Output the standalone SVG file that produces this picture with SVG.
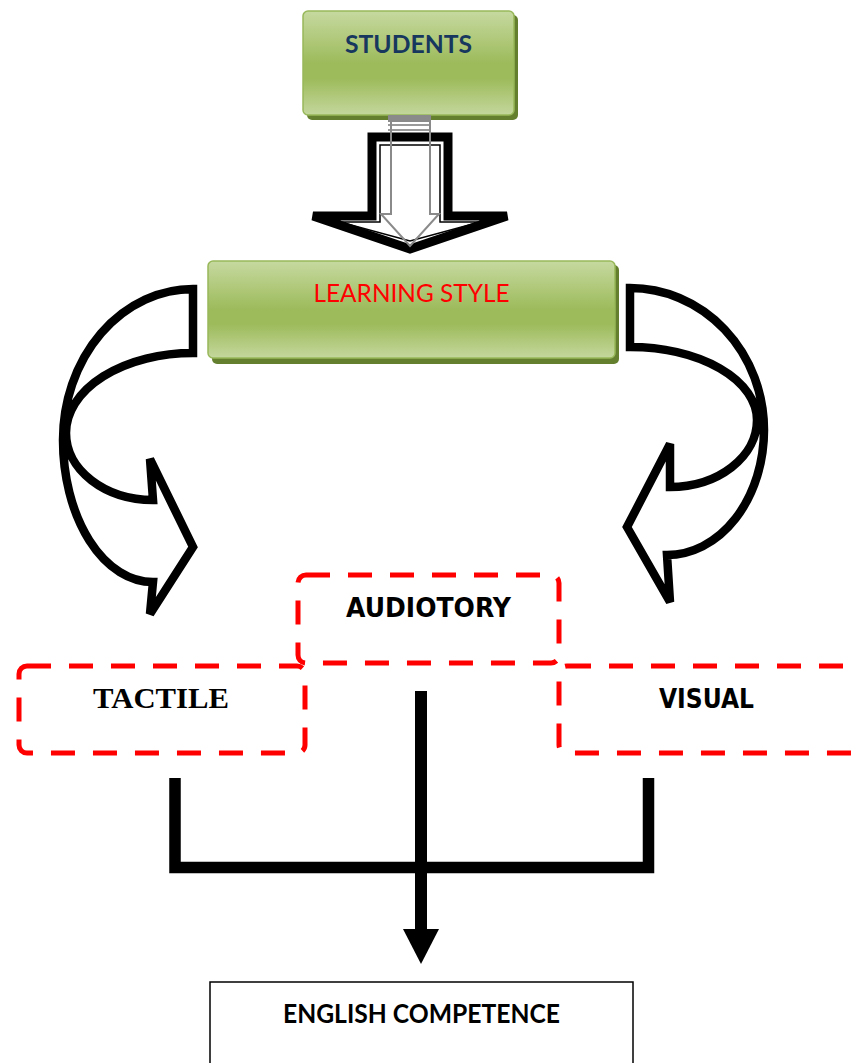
<svg xmlns="http://www.w3.org/2000/svg" width="851" height="1063" viewBox="0 0 851 1063">
<defs>
<linearGradient id="g" x1="0" y1="0" x2="0" y2="1">
<stop offset="0" stop-color="#c6d9a0"/>
<stop offset="0.5" stop-color="#9dbb5b"/>
<stop offset="0.65" stop-color="#9dbb5b"/>
<stop offset="1" stop-color="#c4d79d"/>
</linearGradient>
<style>
.shadow{fill:#64802f}
.green{fill:url(#g);stroke:#98b85a;stroke-width:1.5}
.curve{fill:#fff;stroke:#000;stroke-width:8.5;stroke-linejoin:miter}
.dash{fill:none;stroke:#ff0000;stroke-width:5;stroke-dasharray:24 18}
.heavy{font-family:"DejaVu Sans",sans-serif;font-weight:bold;fill:#000}
.line{fill:none;stroke:#000;stroke-width:11.5;stroke-linejoin:miter}
</style>
</defs>
<rect width="851" height="1063" fill="#fff"/>

<g id="students">
<rect class="shadow" x="307" y="15" width="211" height="105" rx="5"/>
<rect class="green" x="303" y="11" width="211" height="104" rx="5"/>
<text x="408.5" y="53" text-anchor="middle" font-family="Lato, 'Open Sans', sans-serif" font-weight="bold" font-size="25" fill="#17375e" textLength="127" lengthAdjust="spacingAndGlyphs">STUDENTS</text>
</g>

<g id="connectors">
<g id="block-arrow">
<path d="M372,137 V216 H313 L410,249 L507,216 H448 V137 Z" fill="#fff" stroke="#000" stroke-width="9" stroke-linejoin="miter"/>
<path d="M380,145 V222 H340 L410,241 L480,222 H440 V145 Z" fill="none" stroke="#000" stroke-width="1.5"/>
<rect x="388" y="115" width="43" height="7" fill="#8a8a8a"/>
<line x1="388" y1="125" x2="431" y2="125" stroke="#9a9a9a" stroke-width="2"/>
<line x1="388" y1="130" x2="431" y2="130" stroke="#9a9a9a" stroke-width="2"/>
<path d="M391,118 V214 H381 L410,246 L439,214 H430 V118" fill="none" stroke="#8a8a8a" stroke-width="2"/>
</g>
<path id="curve-left" class="curve" d="M193,289 A130,151 0 0 0 63,440 A90,142 0 0 0 153,582 L150,614 L193,547 L150,459 L153,500 A87,67 0 0 1 66,433 A127,80 0 0 1 193,353 Z"/>
<path id="curve-right" class="curve" d="M630,288 A134,142 0 0 1 764,430 A97,125 0 0 1 667,555 L670,602 L627,527 L670,444 L670,487 A87,67 0 0 0 757,420 A127,73 0 0 0 630,347 Z"/>
<path id="bracket" class="line" d="M175,778 V867.5 H648.5 V778"/>
<line x1="421" y1="691" x2="421" y2="931" stroke="#000" stroke-width="12"/>
<polygon points="403,929 439,929 421,964" fill="#000"/>
</g>

<g id="learning-style">
<rect class="shadow" x="212" y="265" width="407" height="99" rx="5"/>
<rect class="green" x="208" y="261" width="407" height="97" rx="5"/>
<text x="411.5" y="302" text-anchor="middle" font-family="Lato, 'Open Sans', sans-serif" font-size="25.5" fill="#ff0000" textLength="196" lengthAdjust="spacingAndGlyphs">LEARNING STYLE</text>
</g>

<g id="audiotory">
<rect class="dash" x="298" y="575" width="261" height="88" rx="8"/>
<text class="heavy" x="428.5" y="617" text-anchor="middle" font-size="26" textLength="165" lengthAdjust="spacingAndGlyphs">AUDIOTORY</text>
</g>

<g id="tactile">
<rect class="dash" x="19" y="666" width="286" height="87" rx="8"/>
<text x="161" y="708" text-anchor="middle" font-family="'Liberation Serif', serif" font-weight="bold" font-size="30" fill="#000" textLength="136" lengthAdjust="spacingAndGlyphs">TACTILE</text>
</g>

<g id="visual">
<rect class="dash" x="559" y="666" width="320" height="87" rx="8"/>
<text class="heavy" x="706.5" y="708" text-anchor="middle" font-size="26" textLength="95" lengthAdjust="spacingAndGlyphs">VISUAL</text>
</g>

<g id="english-competence">
<rect x="210" y="982" width="423" height="100" fill="#fff" stroke="#000" stroke-width="1.5"/>
<text x="421.5" y="1023" text-anchor="middle" font-family="Lato, 'Open Sans', sans-serif" font-weight="bold" font-size="26" fill="#000" textLength="277" lengthAdjust="spacingAndGlyphs">ENGLISH COMPETENCE</text>
</g>
</svg>
